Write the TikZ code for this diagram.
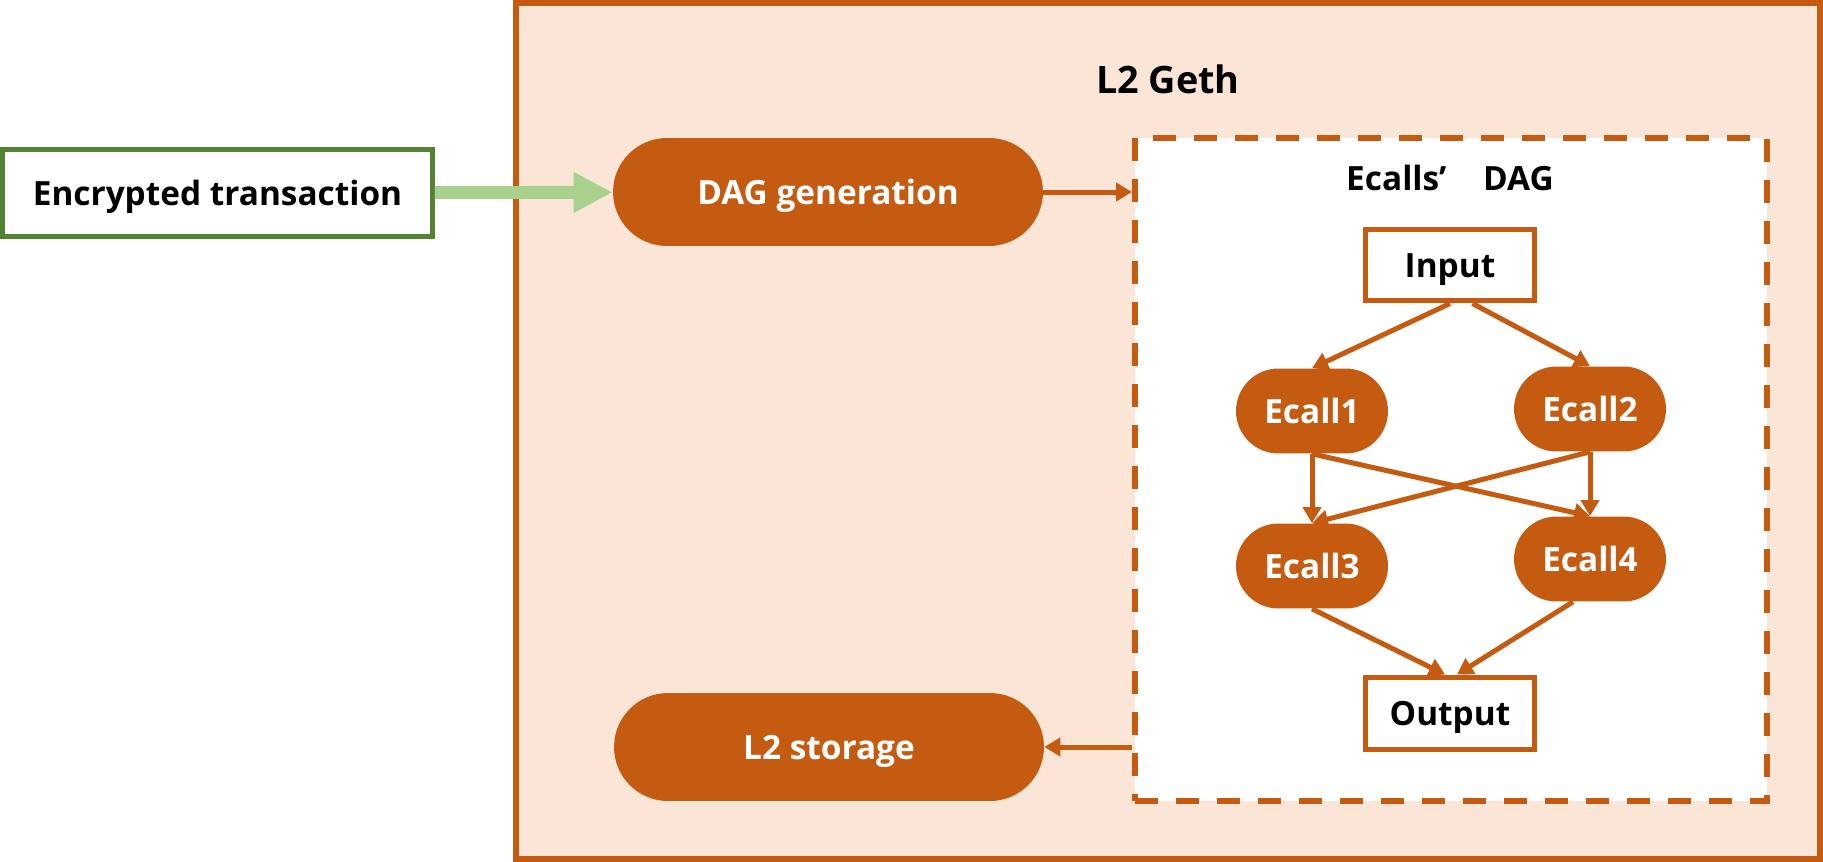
\documentclass[tikz,border=0pt]{standalone}
\usepackage{fontspec}
\setmainfont{Open Sans}
\usetikzlibrary{arrows.meta}
\definecolor{gethorange}{HTML}{C55A11}
\definecolor{gethfill}{HTML}{FBE5D6}
\definecolor{txgreen}{HTML}{548235}
\definecolor{txarrow}{HTML}{A9D18E}
\newcommand{\gethlabel}{\fontsize{19pt}{23pt}\selectfont\bfseries}
\newcommand{\gethtitle}{\fontsize{21.5pt}{26pt}\selectfont\bfseries}
\begin{document}
\begin{tikzpicture}
		[x=0.02cm,y=-0.02cm,
		gethbox/.style={rectangle,draw=gethorange,fill=gethfill,line width=0.12cm,
minimum width=26.08cm,minimum height=17.12cm},
		dagbox/.style={rectangle,draw=gethorange,fill=white,line width=0.12cm,
dash pattern=on 0.46cm off 0.36cm,minimum width=12.64cm,minimum height=13.26cm},
		textstyle/.style={font=\gethlabel,text height=0.58cm,text depth=0.08cm},
		txbox/.style={textstyle,rectangle,draw=txgreen,fill=white,line width=0.1cm,
minimum width=8.6cm,minimum height=1.74cm},
		bigpill/.style={textstyle,rectangle,rounded corners=1.08cm,fill=gethorange,text=white,
minimum width=8.6cm,minimum height=2.16cm},
		ecall/.style={textstyle,rectangle,rounded corners=0.85cm,fill=gethorange,text=white,
minimum width=3.04cm,minimum height=1.7cm},
		iobox/.style={textstyle,rectangle,draw=gethorange,fill=white,line width=0.1cm,
minimum width=3.38cm,minimum height=1.44cm},
		flow/.style={draw=gethorange,line width=0.1cm,-{Triangle[length=0.32cm,width=0.36cm]}},
		txflow/.style={draw=txarrow,line width=0.26cm,-{Triangle[length=0.78cm,width=0.76cm]}}]
		\useasboundingbox (0,0) rectangle (1823,862);
		\node at (1168, 431) (geth) [gethbox] {};
		\node at (1168, 79) (gethtitle) [font=\gethtitle] {L2 Geth};
		\node at (1451, 469.5) (dag) [dagbox] {};
		\node at (1450, 178) (dagtitle) [textstyle] {Ecalls’\hspace{1.1em}DAG};
		\node at (217.5, 193) (tx) [txbox] {Encrypted transaction};
		\node at (828, 192) (daggen) [bigpill] {DAG generation};
		\node at (829, 747) (storage) [bigpill] {L2 storage};
		\node at (1450, 265) (input) [iobox] {Input};
		\node at (1312, 411) (ecall1) [ecall] {Ecall1};
		\node at (1590, 409) (ecall2) [ecall] {Ecall2};
		\node at (1312, 566) (ecall3) [ecall] {Ecall3};
		\node at (1590, 559) (ecall4) [ecall] {Ecall4};
		\node at (1450, 713) (output) [iobox] {Output};
		% connectors
		\draw[txflow] (tx) -- (daggen);
		\draw[flow] (daggen) -- (daggen -| dag.west);
		\draw[flow] (storage -| dag.west) -- (storage);
		\draw[flow] (input.south) -- (ecall1.north);
		\draw[flow] ([xshift=0.45cm]input.south) -- (ecall2.north);
		\draw[flow] (ecall1) -- (ecall3);
		\draw[flow] (ecall2) -- (ecall4);
		\draw[flow] (ecall1.south) -- (ecall4.north);
		\draw[flow] (ecall2.south) -- (ecall3.north);
		\draw[flow] (ecall3.south) -- ([xshift=-0.1cm]output.north);
		\draw[flow] ([xshift=-0.34cm]ecall4.south) -- ([xshift=0.14cm]output.north);
	\end{tikzpicture}
\end{document}
